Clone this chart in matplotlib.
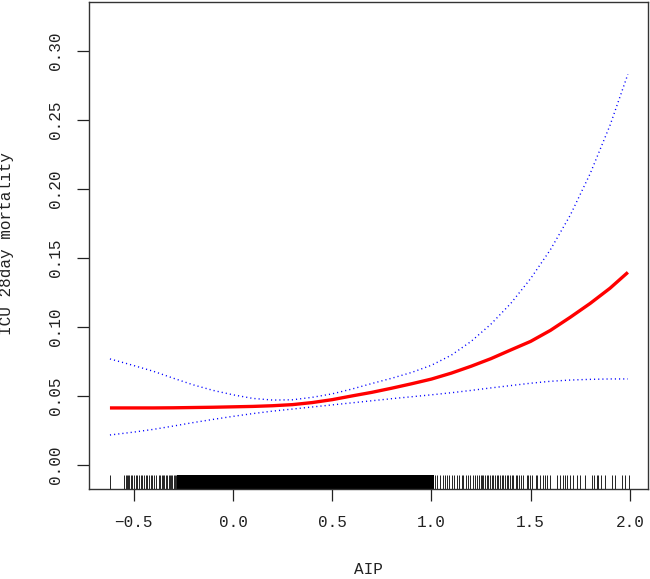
import matplotlib
matplotlib.use("Agg")
import matplotlib.pyplot as plt

# ---- data ----
aip = [-0.62, -0.5, -0.4, -0.3, -0.2, -0.1, 0.0, 0.1, 0.2, 0.3, 0.4, 0.5, 0.6,
       0.7, 0.8, 0.9, 1.0, 1.1, 1.2, 1.3, 1.4, 1.5, 1.6, 1.7, 1.8, 1.9, 1.99]
fit = [0.0413, 0.0413, 0.0413, 0.0414, 0.0416, 0.0418, 0.0421, 0.0424, 0.0429,
       0.0437, 0.0452, 0.0473, 0.0500, 0.0526, 0.0556, 0.0588, 0.0622, 0.0665,
       0.0715, 0.0770, 0.0833, 0.0895, 0.0975, 0.1070, 0.1170, 0.1280, 0.1395]
upper = [0.0768, 0.0720, 0.0678, 0.0628, 0.0580, 0.0540, 0.0508, 0.0482, 0.0470,
         0.0472, 0.0490, 0.0515, 0.0550, 0.0590, 0.0628, 0.0670, 0.0722, 0.0795,
         0.0895, 0.1020, 0.1170, 0.1350, 0.1560, 0.1810, 0.2110, 0.2460, 0.2830]
lower = [0.0217, 0.0238, 0.0258, 0.0282, 0.0307, 0.0330, 0.0352, 0.0372, 0.0390,
         0.0405, 0.0420, 0.0435, 0.0450, 0.0465, 0.0480, 0.0494, 0.0508, 0.0523,
         0.0540, 0.0558, 0.0575, 0.0592, 0.0606, 0.0615, 0.0620, 0.0623, 0.0623]

# rug: sparse observations at both ends, plus a band where ticks merge into solid black
rug_left = [-0.622, -0.549, -0.541, -0.536, -0.529, -0.524, -0.516, -0.508, -0.499,
            -0.491, -0.482, -0.474, -0.465, -0.457, -0.449, -0.440, -0.432, -0.423,
            -0.415, -0.407, -0.398, -0.390, -0.373, -0.368, -0.359, -0.353, -0.346,
            -0.339, -0.331, -0.323, -0.318, -0.311, -0.306, -0.297, -0.292, -0.286]
rug_dense_band = (-0.282, 1.012)
rug_right = [1.018, 1.030, 1.043, 1.057, 1.069, 1.080, 1.090, 1.102, 1.114, 1.128,
             1.141, 1.153, 1.161, 1.174, 1.186, 1.195, 1.208, 1.220, 1.228, 1.242,
             1.248, 1.255, 1.262, 1.270, 1.279, 1.287, 1.295, 1.304, 1.312, 1.321,
             1.329, 1.337, 1.346, 1.354, 1.363, 1.371, 1.380, 1.388, 1.396, 1.405,
             1.413, 1.426, 1.433, 1.443, 1.450, 1.460, 1.480, 1.489, 1.497, 1.506,
             1.527, 1.534, 1.547, 1.564, 1.573, 1.584, 1.598, 1.635, 1.648, 1.662,
             1.673, 1.682, 1.699, 1.715, 1.732, 1.749, 1.774, 1.808, 1.820, 1.833,
             1.841, 1.853, 1.875, 1.909, 1.925, 1.959, 1.976, 1.996]

xticks = [-0.5, 0.0, 0.5, 1.0, 1.5, 2.0]
xtick_labels = ["\u22120.5", "0.0", "0.5", "1.0", "1.5", "2.0"]
yticks = [0.00, 0.05, 0.10, 0.15, 0.20, 0.25, 0.30]
ytick_labels = ["0.00", "0.05", "0.10", "0.15", "0.20", "0.25", "0.30"]
xlabel = "AIP"
ylabel = "ICU 28day mortality"

# ---- style ----
plt.rcParams['font.family'] = ['Liberation Mono', 'DejaVu Sans']
plt.rcParams['font.size'] = 11.5

fig = plt.figure(figsize=(6.5, 5.79), dpi=100)
ax = fig.add_axes([0.1374, 0.155, 0.86, 0.8415])

ax.plot(aip, upper, color='blue', lw=1.0, linestyle=(0, (0.8, 2.2)))
ax.plot(aip, lower, color='blue', lw=1.0, linestyle=(0, (0.8, 2.2)))
ax.plot(aip, fit, color='red', lw=2.4, solid_capstyle='butt')

trans = ax.get_xaxis_transform()
ax.vlines(rug_left + rug_right, 0, 0.03, transform=trans, colors='black', lw=0.6)
ax.axvspan(rug_dense_band[0], rug_dense_band[1], ymin=0, ymax=0.03,
           color='black', lw=0)

ax.set_xlim(-0.724, 2.093)
ax.set_ylim(-0.0176, 0.3353)
ax.set_xticks(xticks)
ax.set_xticklabels(xtick_labels)
ax.set_yticks(yticks)
ax.set_yticklabels(ytick_labels)

ax.tick_params(direction='out', length=8.6, width=0.9, color='#222222',
               labelcolor='#222222')
ax.tick_params(axis='x', pad=10)
ax.tick_params(axis='y', pad=10)
for lab in ax.get_yticklabels():
    lab.set_rotation(90)
    lab.set_va('center')
    lab.set_ha('right')

for s in ax.spines.values():
    s.set_linewidth(1.0)
    s.set_color('#333333')

fig.text(0.5670, 1 - 570 / 579, xlabel, ha='center', va='center', color='#222222')
fig.text(7 / 650, 1 - 244 / 579, ylabel, ha='center', va='center', rotation=90,
         color='#222222')

fig.savefig("out.png", dpi=100)
